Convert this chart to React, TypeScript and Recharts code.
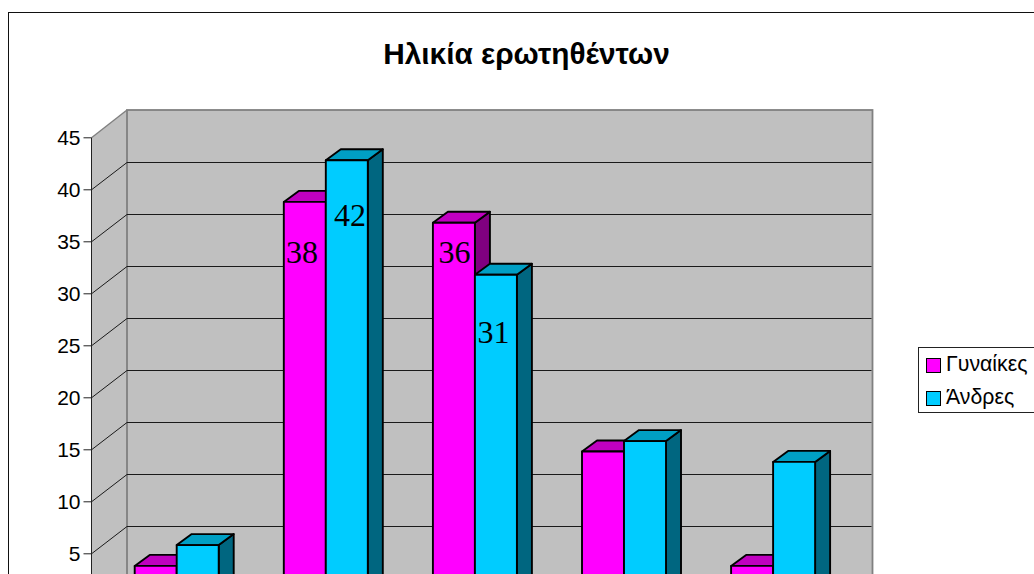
import React from "react";
import { BarChart, Bar, XAxis, YAxis, CartesianGrid, ReferenceArea, Legend, LabelList } from "recharts";

const categories = ["1", "2", "3", "4", "5"];
const women = [3, 38, 36, 14, 3];
const men = [5, 42, 31, 15, 13];
const womenLabels = [null, 38, 36, null, null];
const menLabels = [null, 42, 31, null, null];
const yTicks = [5, 10, 15, 20, 25, 30, 35, 40, 45];
const title = "Ηλικία ερωτηθέντων";
const womenName = "Γυναίκες";
const menName = "Άνδρες";

const data = categories.map((c, i) => ({
  category: c,
  women: women[i],
  men: men[i],
  womenLabel: womenLabels[i],
  menLabel: menLabels[i],
}));

const WALL_DX = 35.5;
const WALL_DY = 27.8;
const BAR_SHIFT_X = 11;
const BAR_SHIFT_Y = 8.7;
const DEPTH_X = 15;
const DEPTH_Y = 11;
const PLOT_TOP = 137.8;
const SANS = "'Liberation Sans', Arial, sans-serif";
const SERIF = "'Liberation Serif', 'Times New Roman', serif";

// small hand placement of the data labels, as in the reference
const labelNudge: Record<string, [number, number]> = {
  "38": [-2.8, 50],
  "42": [3.3, 55],
  "36": [0.6, 29],
  "31": [-2.3, 57],
};

function Walls(props: any) {
  const { x, y, width, height } = props;
  const gray = "#808080";
  return (
    <g>
      <polygon
        points={`${x},${y} ${x + WALL_DX},${y - WALL_DY} ${x + WALL_DX},${y - WALL_DY + height} ${x},${y + height}`}
        fill="#c0c0c0"
      />
      <rect x={x + WALL_DX} y={y - WALL_DY} width={width} height={height} fill="#c0c0c0" stroke={gray} strokeWidth={1.8} />
      <line x1={x} y1={y} x2={x + WALL_DX} y2={y - WALL_DY} stroke={gray} strokeWidth={1.4} />
    </g>
  );
}

function gridLine(props: any) {
  const { x1, x2, y1, key } = props;
  if (y1 <= PLOT_TOP + 1) return <g key={key} />;
  // keep the back-wall line on a whole pixel row so it stays crisp
  const backY = Math.floor(y1 - WALL_DY) + 0.5;
  return (
    <path
      key={key}
      d={`M${x1},${y1} L${x1 + WALL_DX},${backY} L${x2 + WALL_DX - 1},${backY}`}
      fill="none"
      stroke="#1a1a1a"
      strokeWidth={1}
    />
  );
}

function bar3D(front: string, top: string, side: string) {
  return (props: any) => {
    const { x, y, width, height } = props;
    const l = x + BAR_SHIFT_X;
    const t = y - BAR_SHIFT_Y;
    const r = l + width;
    const b = t + height;
    return (
      <g stroke="#000" strokeWidth={1.9} strokeLinejoin="round">
        <polygon points={`${r},${t} ${r + DEPTH_X},${t - DEPTH_Y} ${r + DEPTH_X},${b - DEPTH_Y} ${r},${b}`} fill={side} />
        <polygon points={`${l},${t} ${l + DEPTH_X},${t - DEPTH_Y} ${r + DEPTH_X},${t - DEPTH_Y} ${r},${t}`} fill={top} />
        <rect x={l} y={t} width={width} height={height} fill={front} />
      </g>
    );
  };
}

function valueLabel(props: any) {
  const { x, y, width, value } = props;
  if (value === null || value === undefined) return null;
  const [dx, dy] = labelNudge[String(value)] || [0, 30];
  return (
    <text
      x={x + BAR_SHIFT_X + width / 2 + dx}
      y={y - BAR_SHIFT_Y + dy}
      textAnchor="middle"
      dominantBaseline="central"
      fontFamily={SERIF}
      fontSize={32}
      fill="#000"
    >
      {value}
    </text>
  );
}

function LegendBox() {
  const rows = [
    { name: womenName, color: "#ff00ff", top: 11 },
    { name: menName, color: "#00ccff", top: 44 },
  ];
  return (
    <div style={{ position: "relative", width: 130, height: 66, background: "#fff", border: "1px solid #222", boxSizing: "border-box" }}>
      {rows.map((r) => (
        <div key={r.name}>
          <div style={{ position: "absolute", left: 7, top: r.top - 1, width: 15, height: 15, background: r.color, border: "1.5px solid #000", boxSizing: "border-box" }} />
          <div style={{ position: "absolute", left: 27, top: r.top - 7, fontFamily: SANS, fontSize: 21.3, lineHeight: "24px", color: "#000", whiteSpace: "nowrap" }}>
            {r.name}
          </div>
        </div>
      ))}
    </div>
  );
}

export default function App() {
  return (
    <div style={{ position: "fixed", left: 0, top: 0, width: 1034, height: 574, overflow: "hidden", background: "#fff" }}>
      <div style={{ position: "absolute", left: 8, top: 12, width: 1100, height: 700, border: "1px solid #111" }} />
      <div style={{ position: "absolute", left: 0, top: 0 }}>
        <BarChart
          width={1034}
          height={700}
          data={data}
          margin={{ top: PLOT_TOP, right: 197, bottom: 94.2, left: 0 }}
          barGap={0}
          barCategoryGap="21.6%"
        >
          <ReferenceArea y1={0} y2={45} ifOverflow="visible" shape={Walls} zIndex={-200} />
          <CartesianGrid vertical={false} horizontal={gridLine} zIndex={-150} />
          <XAxis dataKey="category" tick={false} tickLine={false} height={0} axisLine={{ stroke: "#222" }} />
          <YAxis
            width={91.5}
            domain={[0, 45]}
            ticks={yTicks}
            interval={0}
            tickSize={8}
            tickMargin={3}
            stroke="#222"
            tick={{ fontFamily: SANS, fontSize: 21, fill: "#000" }}
          />
          <Bar dataKey="women" name={womenName} fill="#ff00ff" isAnimationActive={false} shape={bar3D("#ff00ff", "#c000c0", "#800080")}>
            <LabelList dataKey="womenLabel" content={valueLabel} />
          </Bar>
          <Bar dataKey="men" name={menName} fill="#00ccff" isAnimationActive={false} shape={bar3D("#00ccff", "#009fc4", "#006680")}>
            <LabelList dataKey="menLabel" content={valueLabel} />
          </Bar>
          <Legend
            layout="horizontal"
            verticalAlign="middle"
            align="center"
            content={<LegendBox />}
            wrapperStyle={{ position: "absolute", left: 918, top: 347, width: 130, height: 66 }}
          />
          <text x={526.5} y={64} textAnchor="middle" fontFamily={SANS} fontWeight="bold" fontSize={29.8} fill="#000">
            {title}
          </text>
        </BarChart>
      </div>
    </div>
  );
}
